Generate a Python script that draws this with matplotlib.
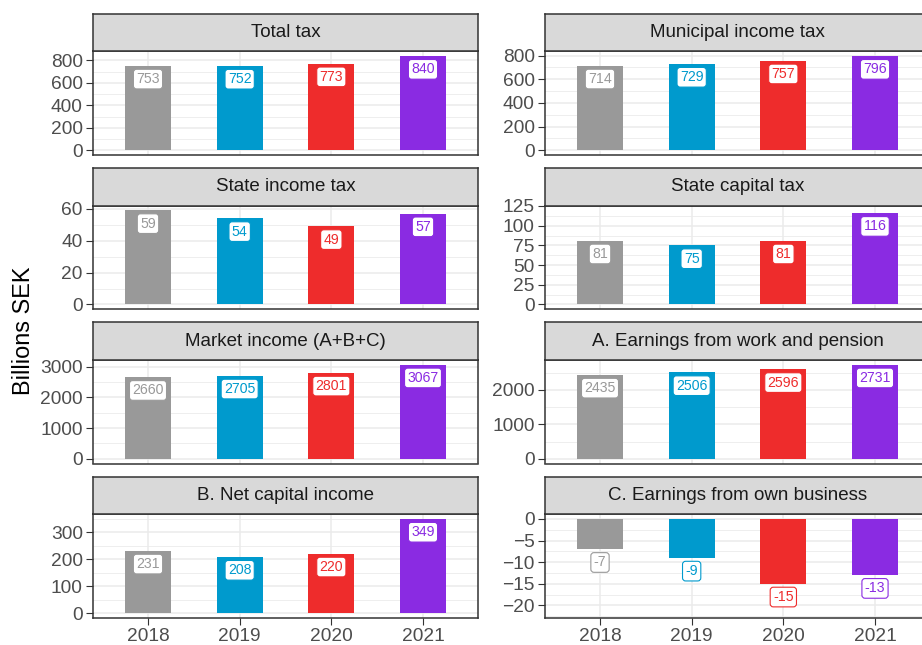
import matplotlib.pyplot as plt
import numpy as np

plt.rcParams['font.family'] = ['Liberation Sans', 'DejaVu Sans']

# data (billions SEK), one list per facet
YEARS = ["2018", "2019", "2020", "2021"]
YEAR_COLORS = ["#999999", "#009ACD", "#EE2C2C", "#8A2BE2"]

PANEL_TITLES = [
    "Total tax",
    "Municipal income tax",
    "State income tax",
    "State capital tax",
    "Market income (A+B+C)",
    "A. Earnings from work and pension",
    "B. Net capital income",
    "C. Earnings from own business",
]

total_tax = [753, 752, 773, 840]
municipal_income_tax = [714, 729, 757, 796]
state_income_tax = [59, 54, 49, 57]
state_capital_tax = [81, 75, 81, 116]
market_income = [2660, 2705, 2801, 3067]
work_and_pension = [2435, 2506, 2596, 2731]
net_capital_income = [231, 208, 220, 349]
own_business = [-7, -9, -15, -13]

PANEL_VALUES = [total_tax, municipal_income_tax, state_income_tax, state_capital_tax,
                market_income, work_and_pension, net_capital_income, own_business]

PANEL_TICKS = [
    [0, 200, 400, 600, 800],
    [0, 200, 400, 600, 800],
    [0, 20, 40, 60],
    [0, 25, 50, 75, 100, 125],
    [0, 1000, 2000, 3000],
    [0, 1000, 2000],
    [0, 100, 200, 300],
    [-20, -15, -10, -5, 0],
]

# a couple of facets have a slightly wider scale than their bars
SCALE_EXTENT = {3: 119.5, 7: -21.8}

# layout in pixels of the 922x645 picture
W, H = 922, 645
COL_LEFT = [93, 545]
COL_WIDTH = 385
ROW_TOP = [51.3, 205.6, 359.9, 514.2]
PANEL_H = 103.6
STRIP_H = 37.5

GRID = "#EBEBEB"
DARK = "#333333"
TICK_TXT = "#4D4D4D"


def fig_rect(x, y_top, w, h):
    return [x / W, 1 - (y_top + h) / H, w / W, h / H]


fig = plt.figure(figsize=(W / 100, H / 100), dpi=100)
x = np.arange(1, len(YEARS) + 1)

for i, (title, vals, ticks) in enumerate(zip(PANEL_TITLES, PANEL_VALUES, PANEL_TICKS)):
    row, col = divmod(i, 2)
    ax = fig.add_axes(fig_rect(COL_LEFT[col], ROW_TOP[row], COL_WIDTH, PANEL_H))

    lo = min(0, min(vals), SCALE_EXTENT.get(i, 0))
    hi = max(0, max(vals), SCALE_EXTENT.get(i, 0))
    pad = 0.05 * (hi - lo)

    step = ticks[1] - ticks[0]
    minors = np.arange(ticks[0] - step / 2, ticks[-1] + step, step)
    ax.set_yticks(ticks)
    ax.set_yticks(minors, minor=True)
    ax.set_xticks(x)
    # limits after the ticks, or set_yticks widens them
    ax.set_ylim(lo - pad, hi + pad)
    ax.set_xlim(0.4, len(YEARS) + 0.6)
    ax.set_axisbelow(True)
    ax.grid(which='major', color=GRID, linewidth=1.1)
    ax.grid(which='minor', axis='y', color=GRID, linewidth=0.6)

    ax.bar(x, vals, width=0.5, color=YEAR_COLORS, zorder=2)

    for xi, v, c in zip(x, vals, YEAR_COLORS):
        ax.annotate(f"{v}", (xi, v), xytext=(0, -9.6), textcoords='offset points',
                    ha='center', va='center', color=c, fontsize=10.2, zorder=4,
                    bbox=dict(boxstyle='round,pad=0.2,rounding_size=0.22',
                              fc='white', ec=c, lw=0.8))

    for s in ax.spines.values():
        s.set_color(DARK)
        s.set_linewidth(1.1)

    ax.tick_params(axis='y', which='major', length=4.7, width=0.8, color=DARK,
                   labelsize=13.8, labelcolor=TICK_TXT, pad=2.6)
    ax.tick_params(which='minor', length=0)
    if row == 3:
        ax.set_xticklabels(YEARS)
        ax.tick_params(axis='x', length=4.7, width=0.8, color=DARK,
                       labelsize=13.8, labelcolor=TICK_TXT, pad=2.4)
    else:
        ax.tick_params(axis='x', length=0, labelbottom=False)

    # facet strip
    sax = fig.add_axes(fig_rect(COL_LEFT[col], ROW_TOP[row] - STRIP_H, COL_WIDTH, STRIP_H))
    sax.set_facecolor("#D9D9D9")
    sax.set_xticks([])
    sax.set_yticks([])
    for s in sax.spines.values():
        s.set_color(DARK)
        s.set_linewidth(1.1)
    sax.text(0.5, 0.5, title, ha='center', va='center', fontsize=13.5,
             color="#1A1A1A", transform=sax.transAxes)

fig.text(24 / W, 1 - 331 / H, "Billions SEK", rotation=90, ha='center', va='center',
         fontsize=16.9, color="black")

fig.savefig("out.png", dpi=100)
